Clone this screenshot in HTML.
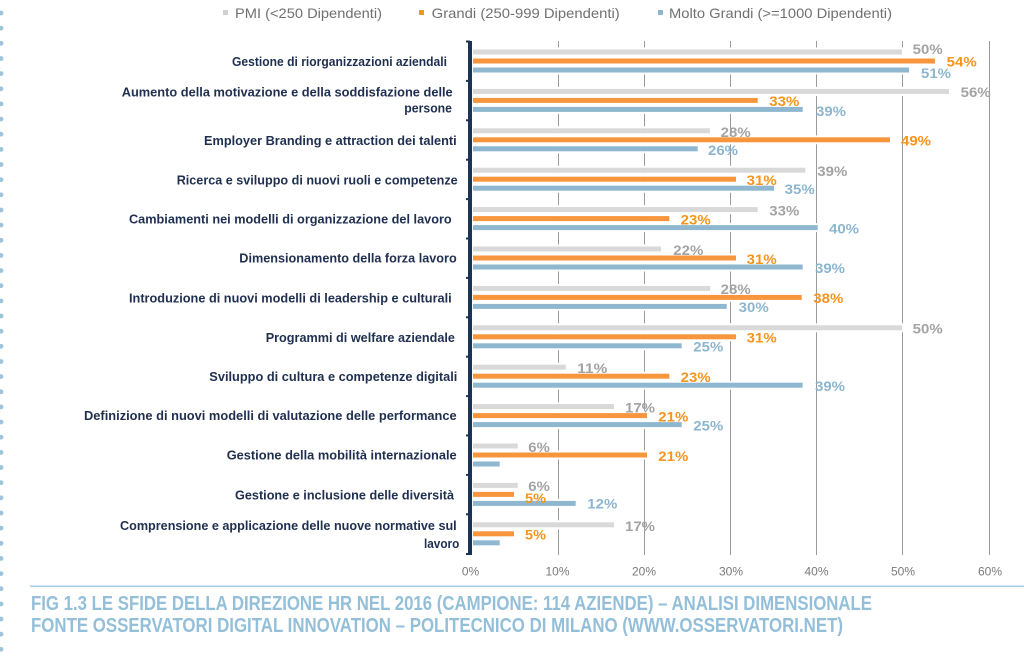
<!DOCTYPE html>
<html>
<head>
<meta charset="utf-8">
<style>
html,body{margin:0;padding:0;background:#fff;}
svg{display:block;}
.cat{font-family:"Liberation Sans",sans-serif;font-weight:bold;font-size:13px;fill:#1f2f4f;}
.lg{font-family:"Liberation Sans",sans-serif;font-size:14px;fill:#707070;}
.tk{font-family:"Liberation Sans",sans-serif;font-size:12px;fill:#7a7a7a;text-anchor:middle;}
.vl{font-family:"Liberation Sans",sans-serif;font-weight:bold;font-size:13.5px;}
.g{fill:#a3a3a3;} .o{fill:#f7941d;} .b{fill:#8cb6d0;}
.cap{font-family:"Liberation Sans",sans-serif;font-weight:bold;font-size:20px;fill:#94bfd9;}
</style>
</head>
<body>
<svg width="1024" height="657" viewBox="0 0 1024 657" xmlns="http://www.w3.org/2000/svg">
<rect width="1024" height="657" fill="#fff"/>

<!-- left dotted border -->
<g fill="#9fc3da">
<circle cx="1" cy="13" r="2.4"/><circle cx="1" cy="28.2" r="2.4"/><circle cx="1" cy="43.3" r="2.4"/><circle cx="1" cy="58.5" r="2.4"/><circle cx="1" cy="73.6" r="2.4"/><circle cx="1" cy="88.8" r="2.4"/><circle cx="1" cy="103.9" r="2.4"/><circle cx="1" cy="119.1" r="2.4"/><circle cx="1" cy="134.2" r="2.4"/><circle cx="1" cy="149.4" r="2.4"/><circle cx="1" cy="164.5" r="2.4"/><circle cx="1" cy="179.7" r="2.4"/><circle cx="1" cy="194.8" r="2.4"/><circle cx="1" cy="210" r="2.4"/><circle cx="1" cy="225.1" r="2.4"/><circle cx="1" cy="240.3" r="2.4"/><circle cx="1" cy="255.4" r="2.4"/><circle cx="1" cy="270.6" r="2.4"/><circle cx="1" cy="285.7" r="2.4"/><circle cx="1" cy="300.9" r="2.4"/><circle cx="1" cy="316" r="2.4"/><circle cx="1" cy="331.2" r="2.4"/><circle cx="1" cy="346.3" r="2.4"/><circle cx="1" cy="361.5" r="2.4"/><circle cx="1" cy="376.6" r="2.4"/><circle cx="1" cy="391.8" r="2.4"/><circle cx="1" cy="406.9" r="2.4"/><circle cx="1" cy="422.1" r="2.4"/><circle cx="1" cy="437.2" r="2.4"/><circle cx="1" cy="452.4" r="2.4"/><circle cx="1" cy="467.5" r="2.4"/><circle cx="1" cy="482.7" r="2.4"/><circle cx="1" cy="497.8" r="2.4"/><circle cx="1" cy="513" r="2.4"/><circle cx="1" cy="528.1" r="2.4"/><circle cx="1" cy="543.3" r="2.4"/><circle cx="1" cy="558.4" r="2.4"/><circle cx="1" cy="573.6" r="2.4"/><circle cx="1" cy="588.7" r="2.4"/><circle cx="1" cy="603.9" r="2.4"/><circle cx="1" cy="619" r="2.4"/><circle cx="1" cy="634.2" r="2.4"/><circle cx="1" cy="649.3" r="2.4"/>
</g>

<!-- legend -->
<rect x="223" y="10" width="5" height="5" fill="#d0d0d0"/>
<text class="lg" x="235" y="17.8" textLength="147" lengthAdjust="spacingAndGlyphs">PMI (&lt;250 Dipendenti)</text>
<rect x="419" y="10" width="5" height="5" fill="#f7941d"/>
<text class="lg" x="431.7" y="17.8" textLength="188" lengthAdjust="spacingAndGlyphs">Grandi (250-999 Dipendenti)</text>
<rect x="658" y="10" width="5" height="5" fill="#8cb6d0"/>
<text class="lg" x="669" y="17.8" textLength="223" lengthAdjust="spacingAndGlyphs">Molto Grandi (&gt;=1000 Dipendenti)</text>

<!-- gridlines -->
<g stroke="#9a9a9a" stroke-width="1">
<line x1="558.5" y1="41" x2="558.5" y2="555"/>
<line x1="644.5" y1="41" x2="644.5" y2="555"/>
<line x1="730.5" y1="41" x2="730.5" y2="555"/>
<line x1="816.5" y1="41" x2="816.5" y2="555"/>
<line x1="902.5" y1="41" x2="902.5" y2="555"/>
<line x1="989.5" y1="41" x2="989.5" y2="555"/>
</g>

<!-- white backing behind bars -->
<g fill="#fff">
<rect x="473" y="47.5" width="430" height="9"/><rect x="473" y="56.5" width="463" height="9"/><rect x="473" y="65.5" width="437" height="9"/>
<rect x="473" y="86.9" width="477" height="9"/><rect x="473" y="95.9" width="286" height="9"/><rect x="473" y="104.9" width="331" height="9"/>
<rect x="473" y="126.3" width="238" height="9"/><rect x="473" y="135.3" width="418" height="9"/><rect x="473" y="144.3" width="226" height="9"/>
<rect x="473" y="165.7" width="333" height="9"/><rect x="473" y="174.7" width="264" height="9"/><rect x="473" y="183.7" width="302" height="9"/>
<rect x="473" y="205.1" width="286" height="9"/><rect x="473" y="214.1" width="197" height="9"/><rect x="473" y="223.1" width="346" height="9"/>
<rect x="473" y="244.5" width="189" height="9"/><rect x="473" y="253.5" width="264" height="9"/><rect x="473" y="262.5" width="331" height="9"/>
<rect x="473" y="283.9" width="238" height="9"/><rect x="473" y="292.9" width="330" height="9"/><rect x="473" y="301.9" width="255" height="9"/>
<rect x="473" y="323.3" width="430" height="9"/><rect x="473" y="332.3" width="264" height="9"/><rect x="473" y="341.3" width="210" height="9"/>
<rect x="473" y="362.7" width="94" height="9"/><rect x="473" y="371.7" width="197" height="9"/><rect x="473" y="380.7" width="331" height="9"/>
<rect x="473" y="402.1" width="142" height="9"/><rect x="473" y="411.1" width="175" height="9"/><rect x="473" y="420.1" width="210" height="9"/>
<rect x="473" y="441.5" width="46" height="9"/><rect x="473" y="450.5" width="175" height="9"/><rect x="473" y="459.5" width="28" height="9"/>
<rect x="473" y="480.9" width="46" height="9"/><rect x="473" y="489.9" width="42" height="9"/><rect x="473" y="498.9" width="104" height="9"/>
<rect x="473" y="520.3" width="142" height="9"/><rect x="473" y="529.3" width="42" height="9"/><rect x="473" y="538.3" width="28" height="9"/>
</g>

<!-- bars -->
<g fill="#d9d9d9">
<rect x="473" y="49.5" width="429" height="5"/>
<rect x="473" y="88.9" width="476" height="5"/>
<rect x="473" y="128.3" width="237" height="5"/>
<rect x="473" y="167.7" width="332.3" height="5"/>
<rect x="473" y="207.1" width="284.7" height="5"/>
<rect x="473" y="246.5" width="188" height="5"/>
<rect x="473" y="285.9" width="237" height="5"/>
<rect x="473" y="325.3" width="429.3" height="5"/>
<rect x="473" y="364.7" width="92.7" height="5"/>
<rect x="473" y="404.1" width="141" height="5"/>
<rect x="473" y="443.5" width="44.7" height="5"/>
<rect x="473" y="482.9" width="44.7" height="5"/>
<rect x="473" y="522.3" width="141" height="5"/>
</g>
<g fill="#f7963c">
<rect x="473" y="58.5" width="462" height="5"/>
<rect x="473" y="97.9" width="284.7" height="5"/>
<rect x="473" y="137.3" width="417" height="5"/>
<rect x="473" y="176.7" width="263" height="5"/>
<rect x="473" y="216.1" width="196.3" height="5"/>
<rect x="473" y="255.5" width="263" height="5"/>
<rect x="473" y="294.9" width="328.7" height="5"/>
<rect x="473" y="334.3" width="263" height="5"/>
<rect x="473" y="373.7" width="196.3" height="5"/>
<rect x="473" y="413.1" width="174" height="5"/>
<rect x="473" y="452.5" width="174" height="5"/>
<rect x="473" y="491.9" width="41" height="5"/>
<rect x="473" y="531.3" width="41" height="5"/>
</g>
<g fill="#8fb7cf">
<rect x="473" y="67.5" width="436" height="5"/>
<rect x="473" y="106.9" width="329.7" height="5"/>
<rect x="473" y="146.3" width="224.7" height="5"/>
<rect x="473" y="185.7" width="301" height="5"/>
<rect x="473" y="225.1" width="344.7" height="5"/>
<rect x="473" y="264.5" width="329.7" height="5"/>
<rect x="473" y="303.9" width="253.7" height="5"/>
<rect x="473" y="343.3" width="208.7" height="5"/>
<rect x="473" y="382.7" width="329.7" height="5"/>
<rect x="473" y="422.1" width="208.7" height="5"/>
<rect x="473" y="461.5" width="26.7" height="5"/>
<rect x="473" y="500.9" width="102.7" height="5"/>
<rect x="473" y="540.3" width="26.7" height="5"/>
</g>

<!-- left axis -->
<g fill="#1b3456">
<rect x="468" y="41" width="4" height="514"/>
<rect x="466" y="40.5" width="4" height="2"/>
<rect x="466" y="79.9" width="4" height="2"/>
<rect x="466" y="119.3" width="4" height="2"/>
<rect x="466" y="158.7" width="4" height="2"/>
<rect x="466" y="198.1" width="4" height="2"/>
<rect x="466" y="237.5" width="4" height="2"/>
<rect x="466" y="276.9" width="4" height="2"/>
<rect x="466" y="316.3" width="4" height="2"/>
<rect x="466" y="355.7" width="4" height="2"/>
<rect x="466" y="395.1" width="4" height="2"/>
<rect x="466" y="434.5" width="4" height="2"/>
<rect x="466" y="473.9" width="4" height="2"/>
<rect x="466" y="513.3" width="4" height="2"/>
<rect x="466" y="553" width="4" height="2"/>
</g>

<!-- value labels -->
<g class="vl">
<text class="g" x="912.7" y="54.1" textLength="30" lengthAdjust="spacingAndGlyphs">50%</text>
<text class="o" x="946.7" y="66.5" textLength="30" lengthAdjust="spacingAndGlyphs">54%</text>
<text class="b" x="921" y="78.1" textLength="30" lengthAdjust="spacingAndGlyphs">51%</text>

<text class="g" x="960.7" y="97.1" textLength="30" lengthAdjust="spacingAndGlyphs">56%</text>
<text class="o" x="769.3" y="105.8" textLength="30" lengthAdjust="spacingAndGlyphs">33%</text>
<text class="b" x="816" y="115.8" textLength="30" lengthAdjust="spacingAndGlyphs">39%</text>

<text class="g" x="720.7" y="137.1" textLength="30" lengthAdjust="spacingAndGlyphs">28%</text>
<text class="o" x="901" y="145.5" textLength="30" lengthAdjust="spacingAndGlyphs">49%</text>
<text class="b" x="708" y="154.8" textLength="30" lengthAdjust="spacingAndGlyphs">26%</text>

<text class="g" x="817.3" y="176" textLength="30" lengthAdjust="spacingAndGlyphs">39%</text>
<text class="o" x="746.7" y="185" textLength="30" lengthAdjust="spacingAndGlyphs">31%</text>
<text class="b" x="784.7" y="194" textLength="30" lengthAdjust="spacingAndGlyphs">35%</text>

<text class="g" x="769.3" y="215.4" textLength="30" lengthAdjust="spacingAndGlyphs">33%</text>
<text class="o" x="680.7" y="224.4" textLength="30" lengthAdjust="spacingAndGlyphs">23%</text>
<text class="b" x="829" y="233.4" textLength="30" lengthAdjust="spacingAndGlyphs">40%</text>

<text class="g" x="673.3" y="254.8" textLength="30" lengthAdjust="spacingAndGlyphs">22%</text>
<text class="o" x="746.7" y="263.8" textLength="30" lengthAdjust="spacingAndGlyphs">31%</text>
<text class="b" x="815" y="272.8" textLength="30" lengthAdjust="spacingAndGlyphs">39%</text>

<text class="g" x="720.7" y="294.2" textLength="30" lengthAdjust="spacingAndGlyphs">28%</text>
<text class="o" x="813.3" y="303.2" textLength="30" lengthAdjust="spacingAndGlyphs">38%</text>
<text class="b" x="738.7" y="312.2" textLength="30" lengthAdjust="spacingAndGlyphs">30%</text>

<text class="g" x="912.7" y="333.6" textLength="30" lengthAdjust="spacingAndGlyphs">50%</text>
<text class="o" x="746.7" y="342.6" textLength="30" lengthAdjust="spacingAndGlyphs">31%</text>
<text class="b" x="693.3" y="351.6" textLength="30" lengthAdjust="spacingAndGlyphs">25%</text>

<text class="g" x="577.3" y="373" textLength="30" lengthAdjust="spacingAndGlyphs">11%</text>
<text class="o" x="680.7" y="382" textLength="30" lengthAdjust="spacingAndGlyphs">23%</text>
<text class="b" x="815" y="391" textLength="30" lengthAdjust="spacingAndGlyphs">39%</text>

<text class="g" x="625" y="412.4" textLength="30" lengthAdjust="spacingAndGlyphs">17%</text>
<text class="o" x="658.3" y="421.4" textLength="30" lengthAdjust="spacingAndGlyphs">21%</text>
<text class="b" x="693.3" y="430.4" textLength="30" lengthAdjust="spacingAndGlyphs">25%</text>

<text class="g" x="528.3" y="451.8" textLength="21.5" lengthAdjust="spacingAndGlyphs">6%</text>
<text class="o" x="658.3" y="460.8" textLength="30" lengthAdjust="spacingAndGlyphs">21%</text>

<text class="g" x="528.3" y="491.2" textLength="21.5" lengthAdjust="spacingAndGlyphs">6%</text>
<text class="o" x="525" y="503.1" textLength="21" lengthAdjust="spacingAndGlyphs">5%</text>
<text class="b" x="587.3" y="508.5" textLength="30" lengthAdjust="spacingAndGlyphs">12%</text>

<text class="g" x="625" y="531" textLength="30" lengthAdjust="spacingAndGlyphs">17%</text>
<text class="o" x="525" y="539.7" textLength="21" lengthAdjust="spacingAndGlyphs">5%</text>
</g>

<!-- category labels -->
<g class="cat">
<text x="232" y="66" textLength="215" lengthAdjust="spacingAndGlyphs">Gestione di riorganizzazioni aziendali</text>
<text x="121.7" y="96.4" textLength="331" lengthAdjust="spacingAndGlyphs">Aumento della motivazione e della soddisfazione delle</text>
<text x="404.3" y="112.3" textLength="47.7" lengthAdjust="spacingAndGlyphs">persone</text>
<text x="204" y="145" textLength="252.7" lengthAdjust="spacingAndGlyphs">Employer Branding e attraction dei talenti</text>
<text x="176.7" y="184.3" textLength="281" lengthAdjust="spacingAndGlyphs">Ricerca e sviluppo di nuovi ruoli e competenze</text>
<text x="129" y="223.6" textLength="322.7" lengthAdjust="spacingAndGlyphs">Cambiamenti nei modelli di organizzazione del lavoro</text>
<text x="239.3" y="262.6" textLength="217.4" lengthAdjust="spacingAndGlyphs">Dimensionamento della forza lavoro</text>
<text x="129" y="302.6" textLength="322.7" lengthAdjust="spacingAndGlyphs">Introduzione di nuovi modelli di leadership e culturali</text>
<text x="265.7" y="342" textLength="189.3" lengthAdjust="spacingAndGlyphs">Programmi di welfare aziendale</text>
<text x="209.3" y="381" textLength="248" lengthAdjust="spacingAndGlyphs">Sviluppo di cultura e competenze digitali</text>
<text x="84" y="420" textLength="372.7" lengthAdjust="spacingAndGlyphs">Definizione di nuovi modelli di valutazione delle performance</text>
<text x="226.7" y="459.3" textLength="230" lengthAdjust="spacingAndGlyphs">Gestione della mobilità internazionale</text>
<text x="235" y="499.3" textLength="219" lengthAdjust="spacingAndGlyphs">Gestione e inclusione delle diversità</text>
<text x="120" y="530" textLength="336.7" lengthAdjust="spacingAndGlyphs">Comprensione e applicazione delle nuove normative sul</text>
<text x="424" y="548" textLength="35.3" lengthAdjust="spacingAndGlyphs">lavoro</text>
</g>

<!-- x tick labels -->
<g class="tk">
<text x="470.5" y="575.5">0%</text>
<text x="557.5" y="575.5">10%</text>
<text x="644" y="575.5">20%</text>
<text x="731" y="575.5">30%</text>
<text x="816.5" y="575.5">40%</text>
<text x="903" y="575.5">50%</text>
<text x="990" y="575.5">60%</text>
</g>

<!-- separator -->
<rect x="30" y="585.5" width="994" height="1.5" fill="#a9cde0"/>

<!-- caption -->
<text class="cap" x="31" y="610" textLength="841" lengthAdjust="spacingAndGlyphs">FIG 1.3 LE SFIDE DELLA DIREZIONE HR NEL 2016 (CAMPIONE: 114 AZIENDE) – ANALISI DIMENSIONALE</text>
<text class="cap" x="31" y="632" textLength="812" lengthAdjust="spacingAndGlyphs">FONTE OSSERVATORI DIGITAL INNOVATION – POLITECNICO DI MILANO (WWW.OSSERVATORI.NET)</text>
</svg>
</body>
</html>
